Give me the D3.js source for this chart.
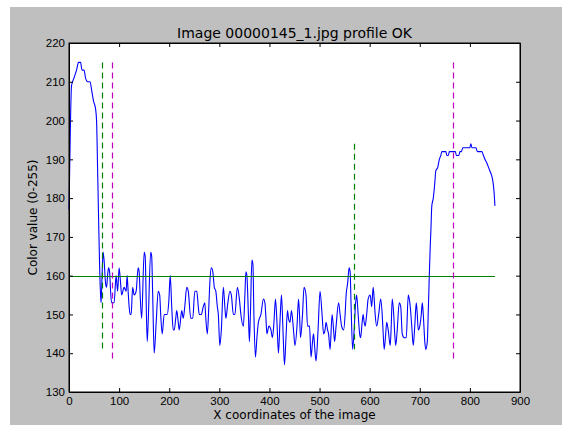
<!DOCTYPE html>
<html>
<head>
<meta charset="utf-8">
<script src="https://cdn.jsdelivr.net/npm/d3@7"></script>
<style>
  body { margin: 0; background: #fff; }
  svg { display: block; font-family: "DejaVu Sans", sans-serif; }
  .axis text { font-size: 11.5px; fill: #000; }
  .axis path, .axis line { stroke: #000; }
</style>
</head>
<body>
<svg id="chart" width="562" height="425"></svg>
<script>
// profile sampled along the image x coordinate
var profileX = [0, 3, 5, 10, 15, 19, 23, 26, 30, 33, 37, 42, 45, 49, 53, 55, 57, 59, 61, 63,
    64, 66, 68, 70, 73, 75, 77, 79, 81, 83, 85, 90, 94, 97, 100, 103, 105, 110, 114, 116,
    118, 120, 122, 124, 127, 130, 134, 138, 140, 142, 145, 150, 152, 156, 158, 163, 165, 167, 170, 174,
    178, 181, 183, 186, 190, 196, 199, 202, 205, 208, 210, 213, 215, 218, 220, 225, 228, 231, 235, 238,
    243, 247, 251, 255, 258, 260, 264, 268, 271, 273, 276, 279, 281, 284, 287, 290, 293, 296, 298, 301,
    304, 308, 311, 313, 317, 321, 324, 328, 331, 336, 340, 343, 348, 351, 353, 355, 358, 360, 362, 365,
    367, 369, 372, 375, 378, 383, 388, 391, 393, 395, 399, 403, 406, 409, 412, 415, 418, 421, 424, 427,
    430, 433, 436, 438, 441, 444, 448, 451, 455, 458, 460, 462, 466, 469, 473, 476, 480, 483, 486, 488,
    490, 493, 497, 501, 505, 508, 511, 513, 516, 518, 521, 525, 528, 530, 533, 538, 541, 544, 548, 551,
    553, 556, 559, 561, 563, 566, 569, 572, 574, 577, 580, 582, 585, 587, 589, 591, 594, 597, 601, 604,
    607, 609, 611, 614, 618, 622, 625, 627, 629, 632, 634, 637, 641, 643, 645, 648, 650, 652, 655, 659,
    662, 665, 669, 673, 677, 679, 681, 684, 687, 690, 693, 695, 697, 700, 703, 705, 707, 710, 712, 715,
    717, 719, 721, 722, 724, 727, 730, 732, 736, 739, 742, 744, 748, 752, 754, 757, 759, 762, 767, 771,
    773, 778, 780, 783, 786, 790, 800, 802, 804, 812, 815, 824, 827, 830, 834, 837, 840, 843, 845, 848,
    850];
var profileV = [177, 200, 209, 211, 213, 215, 215, 213, 213, 211, 210, 210, 208, 205, 203, 200, 188, 175, 163, 155,
    153, 160, 166, 164, 158, 157, 160, 162, 161, 156, 153, 153, 160, 156, 162, 158, 155, 157, 156, 160,
    156, 152, 150, 150, 157, 155, 156, 162, 161, 155, 149, 166, 165, 143, 148, 166, 165, 155, 140, 148,
    156, 155, 150, 145, 150, 150, 153, 160, 152, 146, 146, 149, 151, 148, 146, 151, 149, 152, 157, 156,
    149, 149, 156, 156, 152, 150, 150, 152, 153, 149, 145, 152, 158, 162, 161, 157, 156, 152, 150, 142,
    146, 157, 152, 149, 153, 156, 155, 150, 150, 157, 154, 150, 147, 155, 161, 160, 150, 143, 150, 164,
    163, 150, 139, 144, 148, 150, 154, 153, 149, 145, 147, 146, 144, 148, 154, 148, 140, 148, 155, 146,
    137, 144, 151, 149, 148, 151, 146, 142, 147, 154, 150, 144, 150, 157, 155, 147, 147, 139, 143, 145,
    142, 138, 146, 156, 150, 145, 146, 148, 146, 145, 141, 150, 146, 143, 147, 153, 150, 147, 146, 150,
    155, 158, 162, 161, 152, 141, 146, 153, 155, 150, 145, 144, 148, 150, 148, 147, 150, 154, 155, 152,
    157, 154, 150, 147, 150, 154, 150, 145, 141, 145, 148, 146, 142, 147, 154, 150, 145, 142, 146, 153,
    152, 145, 144, 144, 155, 154, 152, 147, 142, 147, 153, 150, 146, 147, 150, 153, 150, 143, 141, 143,
    151, 160, 168, 171, 178, 180, 184, 187, 188, 190, 191, 192, 192, 192, 191, 191, 192, 192, 192, 192,
    191, 191, 192, 192, 193, 193, 193, 194, 193, 193, 192, 192, 191, 190, 189, 188, 187, 186, 185, 182,
    178];

// horizontal threshold and the detected edges
var threshold = 160;
var thresholdRange = [0, 850];
var edgeX = [65, 85, 568, 766];
var edgeLow = [141, 138, 141, 138];
var edgeHigh = [215, 215, 194, 215];
var edgeColor = ["#008000", "#bf00bf", "#008000", "#bf00bf"];

var xTicks = [0, 100, 200, 300, 400, 500, 600, 700, 800, 900];
var yTicks = [130, 140, 150, 160, 170, 180, 190, 200, 210, 220];

var svg = d3.select("#chart");

// gray figure background, offset like the original screenshot
svg.append("rect")
    .attr("x", 10).attr("y", 7)
    .attr("width", 552).attr("height", 418)
    .attr("fill", "#bfbfbf");

var plot = {left: 69, top: 43, right: 520, bottom: 392};

var x = d3.scaleLinear().domain([0, 900]).range([plot.left, plot.right]);
var y = d3.scaleLinear().domain([130, 220]).range([plot.bottom, plot.top]);

// snap thin straight lines to the pixel grid so they stay crisp
function snap(v) { return Math.round(v) + 0.5; }

svg.append("rect")
    .attr("x", plot.left).attr("y", plot.top)
    .attr("width", plot.right - plot.left).attr("height", plot.bottom - plot.top)
    .attr("fill", "#fff");

var points = profileX.map(function (d, i) { return [d, profileV[i]]; });

var line = d3.line()
    .x(function (d) { return x(d[0]); })
    .y(function (d) { return y(d[1]); })
    .curve(d3.curveMonotoneX);

svg.append("path")
    .datum(points)
    .attr("fill", "none")
    .attr("stroke", "#0000ff")
    .attr("stroke-width", 1.1)
    .attr("d", line);

svg.append("line")
    .attr("x1", x(thresholdRange[0])).attr("x2", x(thresholdRange[1]))
    .attr("y1", snap(y(threshold))).attr("y2", snap(y(threshold)))
    .attr("stroke", "#008000")
    .attr("stroke-width", 1.2);

svg.selectAll(".edge")
    .data(edgeX)
    .enter().append("line")
    .attr("class", "edge")
    .attr("x1", function (d) { return snap(x(d)); })
    .attr("x2", function (d) { return snap(x(d)); })
    .attr("y1", function (d, i) { return y(edgeHigh[i]); })
    .attr("y2", function (d, i) { return y(edgeLow[i]); })
    .attr("stroke", function (d, i) { return edgeColor[i]; })
    .attr("stroke-width", 1.2)
    .attr("stroke-dasharray", "6,4");

// axes with inward ticks on all four sides
svg.append("g")
    .attr("class", "axis")
    .attr("transform", "translate(0," + plot.bottom + ")")
    .call(d3.axisBottom(x).tickValues(xTicks).tickSize(-4).tickSizeOuter(0).tickPadding(5)
        .tickFormat(d3.format("d")));

svg.append("g")
    .attr("class", "axis")
    .attr("transform", "translate(0," + plot.top + ")")
    .call(d3.axisTop(x).tickValues(xTicks).tickSize(-4).tickSizeOuter(0).tickFormat(""));

svg.append("g")
    .attr("class", "axis")
    .attr("transform", "translate(" + plot.left + ",0)")
    .call(d3.axisLeft(y).tickValues(yTicks).tickSize(-4).tickSizeOuter(0).tickPadding(4)
        .tickFormat(d3.format("d")));

svg.append("g")
    .attr("class", "axis")
    .attr("transform", "translate(" + plot.right + ",0)")
    .call(d3.axisRight(y).tickValues(yTicks).tickSize(-4).tickSizeOuter(0).tickFormat(""));

svg.append("rect")
    .attr("x", plot.left).attr("y", plot.top)
    .attr("width", plot.right - plot.left).attr("height", plot.bottom - plot.top)
    .attr("fill", "none")
    .attr("stroke", "#000");

svg.append("text")
    .attr("x", (plot.left + plot.right) / 2).attr("y", 38)
    .attr("text-anchor", "middle")
    .style("font-size", "14px")
    .text("Image 00000145_1.jpg profile OK");

svg.append("text")
    .attr("x", (plot.left + plot.right) / 2).attr("y", 419)
    .attr("text-anchor", "middle")
    .style("font-size", "12px")
    .text("X coordinates of the image");

svg.append("text")
    .attr("transform", "translate(37," + ((plot.top + plot.bottom) / 2) + ") rotate(-90)")
    .attr("text-anchor", "middle")
    .style("font-size", "12px")
    .text("Color value (0-255)");
</script>
</body>
</html>
